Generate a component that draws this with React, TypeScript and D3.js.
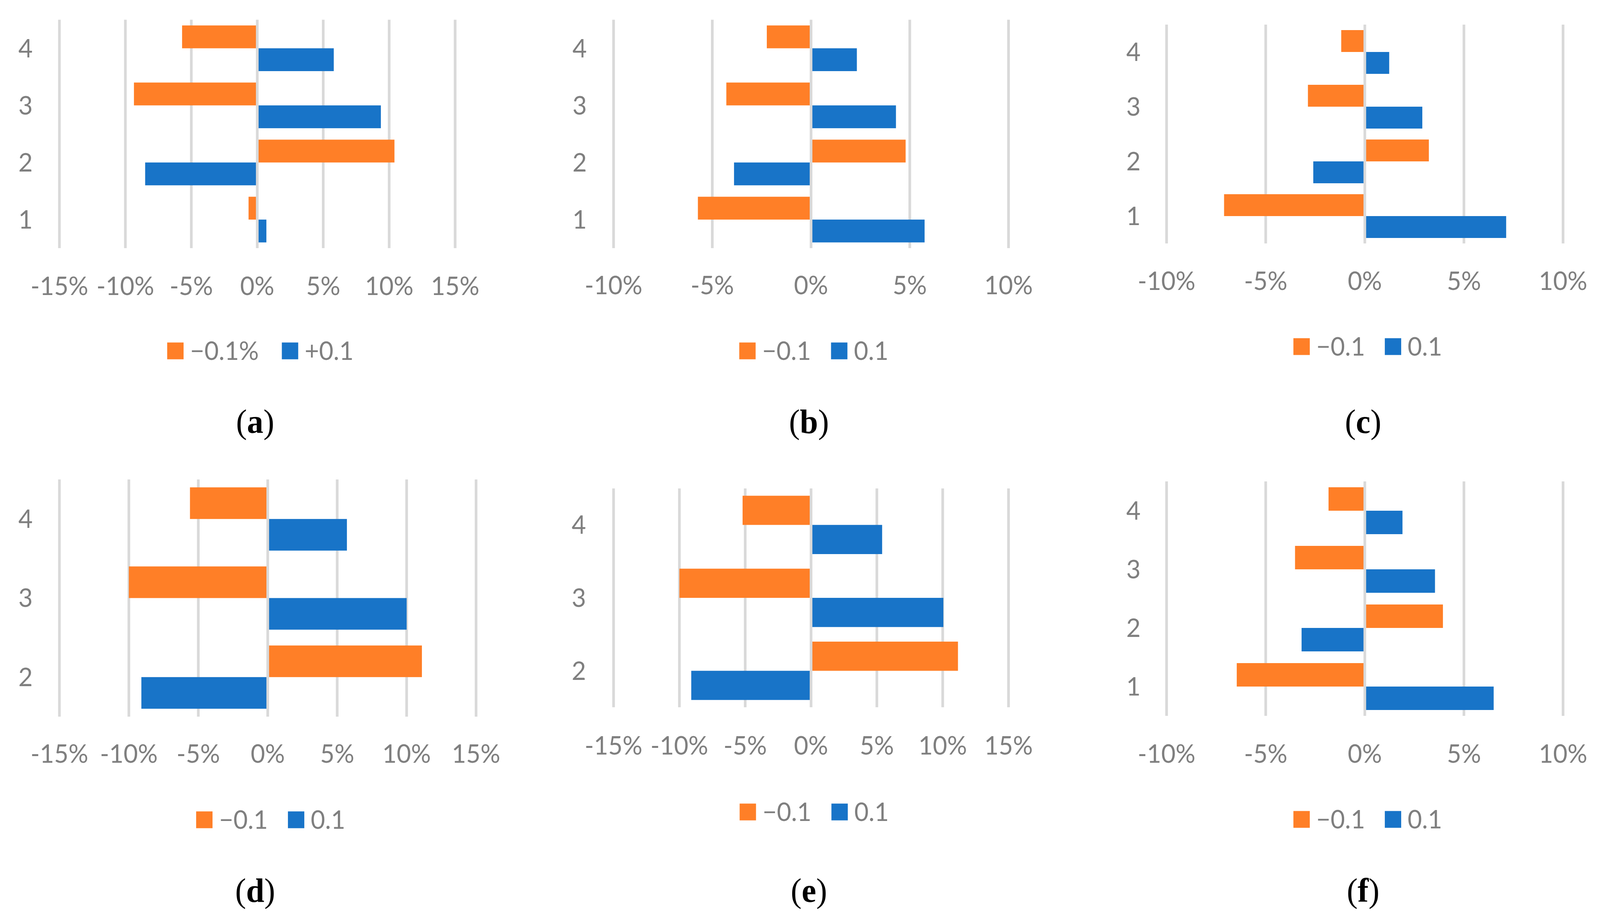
import React from 'react';
import * as d3 from 'd3';

// categories (rows), listed bottom to top
const CATS_FULL = ['1', '2', '3', '4'];
const CATS_SHORT = ['2', '3', '4'];

// tick values (%)
const TICKS_15 = [-15, -10, -5, 0, 5, 10, 15];
const TICKS_10 = [-10, -5, 0, 5, 10];

// legend labels
const SERIES_A = ['\u22120.1%', '+0.1'];
const SERIES = ['\u22120.1', '0.1'];

// values in %, one per category (same order as the category list)
const A_NEG = [-0.66, 10.4, -9.35, -5.7];
const A_POS = [0.69, -8.5, 9.37, 5.8];
const B_NEG = [-5.73, 4.79, -4.29, -2.24];
const B_POS = [5.75, -3.9, 4.3, 2.32];
const C_NEG = [-7.1, 3.23, -2.87, -1.19];
const C_POS = [7.13, -2.6, 2.9, 1.23];
const D_NEG = [11.1, -10.0, -5.6];
const D_POS = [-9.1, 10.0, 5.7];
const E_NEG = [11.16, -10.0, -5.2];
const E_POS = [-9.1, 10.05, 5.4];
const F_NEG = [-6.46, 3.94, -3.52, -1.83];
const F_POS = [6.5, -3.19, 3.54, 1.9];

const ORANGE = '#FF7F27';
const BLUE = '#1874C8';
const GRID = '#D9D9D9';
const TEXT = '#7F7F7F';
const FONT = 'Lato, "Open Sans", sans-serif';
const FS = 65;

interface PanelDef {
  id: string;
  cats: string[];
  neg: number[];
  pos: number[];
  ticks: number[];
  series: string[];
  xRange: [number, number];
  yRange: [number, number];
  catX: number;
  tickY: number;
  legendY: number;
  legendX: [number, number];
  captionX: number;
  captionY: number;
}

const panels: PanelDef[] = [
  { id: 'a', cats: CATS_FULL, neg: A_NEG, pos: A_POS, ticks: TICKS_15, series: SERIES_A,
    xRange: [156, 1195], yRange: [50.5, 635], catX: 67, tickY: 755,
    legendY: 898, legendX: [439, 740], captionX: 670, captionY: 1108 },
  { id: 'b', cats: CATS_FULL, neg: B_NEG, pos: B_POS, ticks: TICKS_10, series: SERIES,
    xRange: [1611, 2648], yRange: [50.5, 635], catX: 1522, tickY: 753,
    legendY: 898, legendX: [1941, 2182], captionX: 2124, captionY: 1108 },
  { id: 'c', cats: CATS_FULL, neg: C_NEG, pos: C_POS, ticks: TICKS_10, series: SERIES,
    xRange: [3063, 4104], yRange: [63, 623], catX: 2976, tickY: 742,
    legendY: 887, legendX: [3396, 3636], captionX: 3579, captionY: 1108 },
  { id: 'd', cats: CATS_SHORT, neg: D_NEG, pos: D_POS, ticks: TICKS_15, series: SERIES,
    xRange: [156, 1250], yRange: [1227, 1834], catX: 67, tickY: 1952,
    legendY: 2098, legendX: [515, 756], captionX: 670, captionY: 2308 },
  { id: 'e', cats: CATS_SHORT, neg: E_NEG, pos: E_POS, ticks: TICKS_15, series: SERIES,
    xRange: [1611, 2648], yRange: [1250, 1810], catX: 1520, tickY: 1931,
    legendY: 2078, legendX: [1942, 2183], captionX: 2124, captionY: 2308 },
  { id: 'f', cats: CATS_FULL, neg: F_NEG, pos: F_POS, ticks: TICKS_10, series: SERIES,
    xRange: [3063, 4104], yRange: [1232, 1832], catX: 2976, tickY: 1952,
    legendY: 2097, legendX: [3396, 3636], captionX: 3579, captionY: 2308 },
];

const Panel: React.FC<{ p: PanelDef }> = ({ p }) => {
  const ext = p.ticks[p.ticks.length - 1];
  const x = d3.scaleLinear().domain([-ext, ext]).range(p.xRange);
  const y = d3
    .scaleBand<string>()
    .domain([...p.cats].reverse())
    .range(p.yRange)
    .paddingInner(0.2)
    .paddingOuter(0.1);
  const sub = d3.scaleBand<string>().domain(['neg', 'pos']).range([0, y.bandwidth()]);

  const rows = p.cats.map((c, i) => ({ cat: c, neg: p.neg[i], pos: p.pos[i] }));
  const sq = 43;

  return (
    <g>
      {/* gridlines */}
      {p.ticks.filter((t) => t !== 0).map((t) => (
        <line key={t} x1={x(t)} x2={x(t)} y1={p.yRange[0]} y2={p.yRange[1]} stroke={GRID} strokeWidth={7} />
      ))}
      {/* bars */}
      {rows.map((r) =>
        (['neg', 'pos'] as const).map((s) => {
          const v = r[s];
          const x0 = x(Math.min(0, v));
          const x1 = x(Math.max(0, v));
          return (
            <rect
              key={r.cat + s}
              x={x0}
              y={(y(r.cat) ?? 0) + (sub(s) ?? 0)}
              width={x1 - x0}
              height={sub.bandwidth()}
              fill={s === 'neg' ? ORANGE : BLUE}
            />
          );
        })
      )}
      {/* zero line on top */}
      <line x1={x(0)} x2={x(0)} y1={p.yRange[0]} y2={p.yRange[1]} stroke={GRID} strokeWidth={7} />
      {/* x tick labels */}
      {p.ticks.map((t) => (
        <text key={t} x={x(t)} y={p.tickY} textAnchor="middle" fontFamily={FONT} fontSize={FS} fill={TEXT}>
          {`${t}%`}
        </text>
      ))}
      {/* category labels */}
      {p.cats.map((c) => (
        <text
          key={c}
          x={p.catX}
          y={(y(c) ?? 0) + y.bandwidth() / 2 + 23}
          textAnchor="middle"
          fontFamily={FONT}
          fontSize={FS}
          fill={TEXT}
        >
          {c}
        </text>
      ))}
      {/* legend */}
      {p.series.map((s, i) => (
        <g key={s}>
          <rect x={p.legendX[i]} y={p.legendY - sq / 2} width={sq} height={sq} fill={i === 0 ? ORANGE : BLUE} />
          <text x={p.legendX[i] + 60} y={p.legendY + 23} fontFamily={FONT} fontSize={FS} fill={TEXT}>
            {s}
          </text>
        </g>
      ))}
      {/* caption */}
      <text x={p.captionX} y={p.captionY} textAnchor="middle" fontFamily='"Liberation Serif", "DejaVu Serif", serif' fontSize={86} fill="#000">
        (<tspan fontWeight="bold">{p.id}</tspan>)
      </text>
    </g>
  );
};

const App: React.FC = () => {
  const width = 4201;
  const height = 2357;
  // the browser viewport may be narrower than the chart, so fit the drawing to it
  return (
    <svg
      viewBox={`0 0 ${width} ${height}`}
      preserveAspectRatio="none"
      style={{ position: 'absolute', left: 0, top: 0, width: '100vw', height: '100vh', background: '#fff' }}
    >
      <rect width={width} height={height} fill="#fff" />
      {panels.map((p) => (
        <Panel key={p.id} p={p} />
      ))}
    </svg>
  );
};

export default App;
